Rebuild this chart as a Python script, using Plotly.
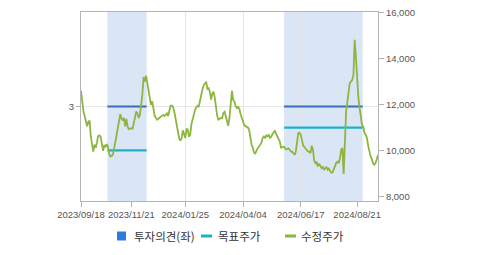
import pandas as pd
import plotly.graph_objects as go

# ---------------- data ----------------
start_date, end_date = "2023-09-18", "2024-09-13"
krx_holidays = [
    "2023-09-28", "2023-09-29", "2023-10-02", "2023-10-03", "2023-10-09",
    "2023-12-25", "2023-12-29", "2024-01-01", "2024-02-09", "2024-02-12",
    "2024-03-01", "2024-04-10", "2024-05-01", "2024-05-06", "2024-05-15",
    "2024-06-06", "2024-08-15",
]

price = [
    12600, 12000, 11700, 11500, 11250, 11050, 11250, 11300, 10600, 10300,
    9950, 10250, 10120, 10350, 10630, 10660, 10600, 10300, 9980, 10240,
    10170, 10280, 10150, 9850, 9740, 9760, 9820, 10080, 10380, 10700,
    11050, 11450, 11580, 11400, 11300, 11420, 11050, 11380, 11040, 10930,
    10960,
    10970, 10950, 11200, 11500, 11700, 11620, 11420, 11550, 11900, 12450,
    13200, 13000, 13260, 12900,
    12600, 12200, 11990, 12150, 11700, 11520, 11420, 11340, 11380, 11420,
    11470, 11510, 11550, 11500, 11560, 11620, 11500, 11780, 11950, 11960,
    11900, 11700, 11380, 11120, 10800, 10520, 10430, 10540, 10880, 10650,
    10550, 10950, 10900, 10600, 10700, 11150, 11400, 11600, 11780, 11880,
    11950, 11920, 12200, 12520, 12680, 12850, 12960, 13000, 12660, 12710,
    12550, 12220, 12480, 12560, 12300, 11900, 11500, 11350, 11400, 11420,
    11400, 11640, 11690, 11470, 11260, 11070, 11450, 12100, 12600, 12200,
    12140, 11930, 11850, 11900, 11820, 11590, 11400,
    11300, 11110, 11060, 11040, 11000, 10900, 10500, 10250, 10120, 9900,
    9870, 10020, 10100,
    10170, 10250, 10330, 10540, 10610, 10535, 10660, 10620, 10670, 10550,
    10600, 10710, 10800, 10870, 10720,
    10600, 10460, 10390, 10120, 10160, 10170, 10120, 10050, 10060, 10090,
    10030, 9960, 9950, 9880, 9810, 9940, 10280, 10750, 10780,
    10700, 10450, 10220, 10150, 10080, 10020, 9950, 9950, 9880,
    10200, 10030, 9560, 9450, 9510, 9300, 9420, 9300, 9230, 9300,
    9150, 9220,
    9290, 9160, 9210, 9100, 9030, 9050, 9200, 9330, 9460, 9510,
    9440,
    9660, 10030, 10100, 8980, 10300, 11700, 12100, 12500, 12950, 13000,
    13080, 13300, 14830, 14100, 12900, 12300, 11850, 11460, 11115, 11040,
    10760, 10690, 10540, 10200, 9930, 9740, 9620, 9440, 9380, 9450,
    9620, 9800,
]

tick_dates = ["2023-09-18", "2023-11-21", "2024-01-25", "2024-04-04", "2024-06-17", "2024-08-21"]

opinion_start = ["2023-10-25", "2024-05-28"]
opinion_end = ["2023-12-07", "2024-08-27"]
opinion_level = [3, 3]
target_price = [10000, 11000]

# ---------------- derived ----------------
dates = [d.strftime("%Y-%m-%d") for d in pd.bdate_range(start_date, end_date)
         if d.strftime("%Y-%m-%d") not in krx_holidays]
n = min(len(dates), len(price))
dates = dates[:n]
price = price[:n]
pos = {d: i for i, d in enumerate(dates)}
x = list(range(n))

W, H = 479, 255
L, R, T, B = 81, 101, 12, 54

def px_x(p):
    return (p - L) / (W - L - R)

def px_y(p):
    return (H - B - p) / (H - T - B)

GREEN = "#8db53f"
BLUE = "#3a6db5"
CYAN = "#1eb2c9"
SHADE = "#dae5f6"
AXIS = "#b4b4b4"
GRID = "#e6e6e6"
TXT = "#555555"

fig = go.Figure()

shapes = []
for s, e, lvl, tp in zip(opinion_start, opinion_end, opinion_level, target_price):
    x0, x1 = pos[s] - 0.5, pos[e] + 0.5
    shapes.append(dict(type="rect", xref="x", yref="paper", x0=x0, x1=x1, y0=0, y1=1,
                       fillcolor=SHADE, line=dict(width=0), layer="below"))
    fig.add_trace(go.Scatter(x=[x0, x1], y=[lvl, lvl], mode="lines", yaxis="y",
                             line=dict(color=BLUE, width=2.2), showlegend=False, hoverinfo="skip"))
    fig.add_trace(go.Scatter(x=[x0, x1], y=[tp, tp], mode="lines", yaxis="y2",
                             line=dict(color=CYAN, width=2.2), showlegend=False, hoverinfo="skip"))

fig.add_trace(go.Scatter(x=x, y=price, mode="lines", yaxis="y2",
                         line=dict(color=GREEN, width=1.8), showlegend=False))

# custom legend
legend_items = [
    ("square", BLUE, "투자의견(좌)", 117, 126, 131.5),
    ("dash", CYAN, "목표주가", 201, 212, 215.5),
    ("dash", GREEN, "수정주가", 285, 296, 299),
]
annotations = []
ly = 236
for kind, col, label, a, b, tx in legend_items:
    if kind == "square":
        shapes.append(dict(type="rect", xref="paper", yref="paper",
                           x0=px_x(a), x1=px_x(b), y0=px_y(ly + 4.5), y1=px_y(ly - 4.5),
                           fillcolor="#2e7be0", line=dict(width=0), layer="above"))
    else:
        shapes.append(dict(type="line", xref="paper", yref="paper",
                           x0=px_x(a), x1=px_x(b), y0=px_y(ly), y1=px_y(ly),
                           line=dict(color=col, width=3), layer="above"))
    annotations.append(dict(xref="paper", yref="paper", x=px_x(tx), y=px_y(ly),
                            xanchor="left", yanchor="middle", showarrow=False, text=label,
                            font=dict(family="Noto Sans CJK KR", size=11.5, color="#333333")))

fig.update_layout(
    width=W, height=H, template="none",
    margin=dict(l=L, r=R, t=T, b=B, pad=0),
    paper_bgcolor="white", plot_bgcolor="white",
    showlegend=False,
    font=dict(family="Liberation Sans, Arial, sans-serif", size=9, color=TXT),
    xaxis=dict(range=[0, n - 1], tickmode="array",
               tickvals=[pos[d] for d in tick_dates],
               ticktext=[d.replace("-", "/") for d in tick_dates],
               showgrid=True, gridcolor=GRID, gridwidth=1,
               showline=True, linecolor=AXIS, linewidth=1, mirror=True,
               ticks="outside", ticklen=5, tickcolor=AXIS, zeroline=False,
               tickfont=dict(size=9.5, color=TXT), automargin=False),
    yaxis=dict(range=[1, 5], tickmode="array", tickvals=[3], ticktext=["3"],
               side="left", showgrid=True, gridcolor=GRID, gridwidth=1,
               showline=True, linecolor=AXIS, linewidth=1,
               ticks="outside", ticklen=4, tickcolor=AXIS, zeroline=False,
               tickfont=dict(size=9.5, color=TXT), automargin=False),
    yaxis2=dict(range=[7795, 16040], overlaying="y", side="right",
                tickmode="array", tickvals=[8000, 10000, 12000, 14000, 16000],
                ticktext=["8,000", "10,000", "12,000", "14,000", "16,000"],
                showgrid=False, showline=True, linecolor=AXIS, linewidth=1,
                ticks="outside", ticklen=5, tickcolor=AXIS, zeroline=False,
                tickfont=dict(size=9.5, color=TXT), automargin=False),
    shapes=shapes,
    annotations=annotations,
)

fig.write_html("out.html")
